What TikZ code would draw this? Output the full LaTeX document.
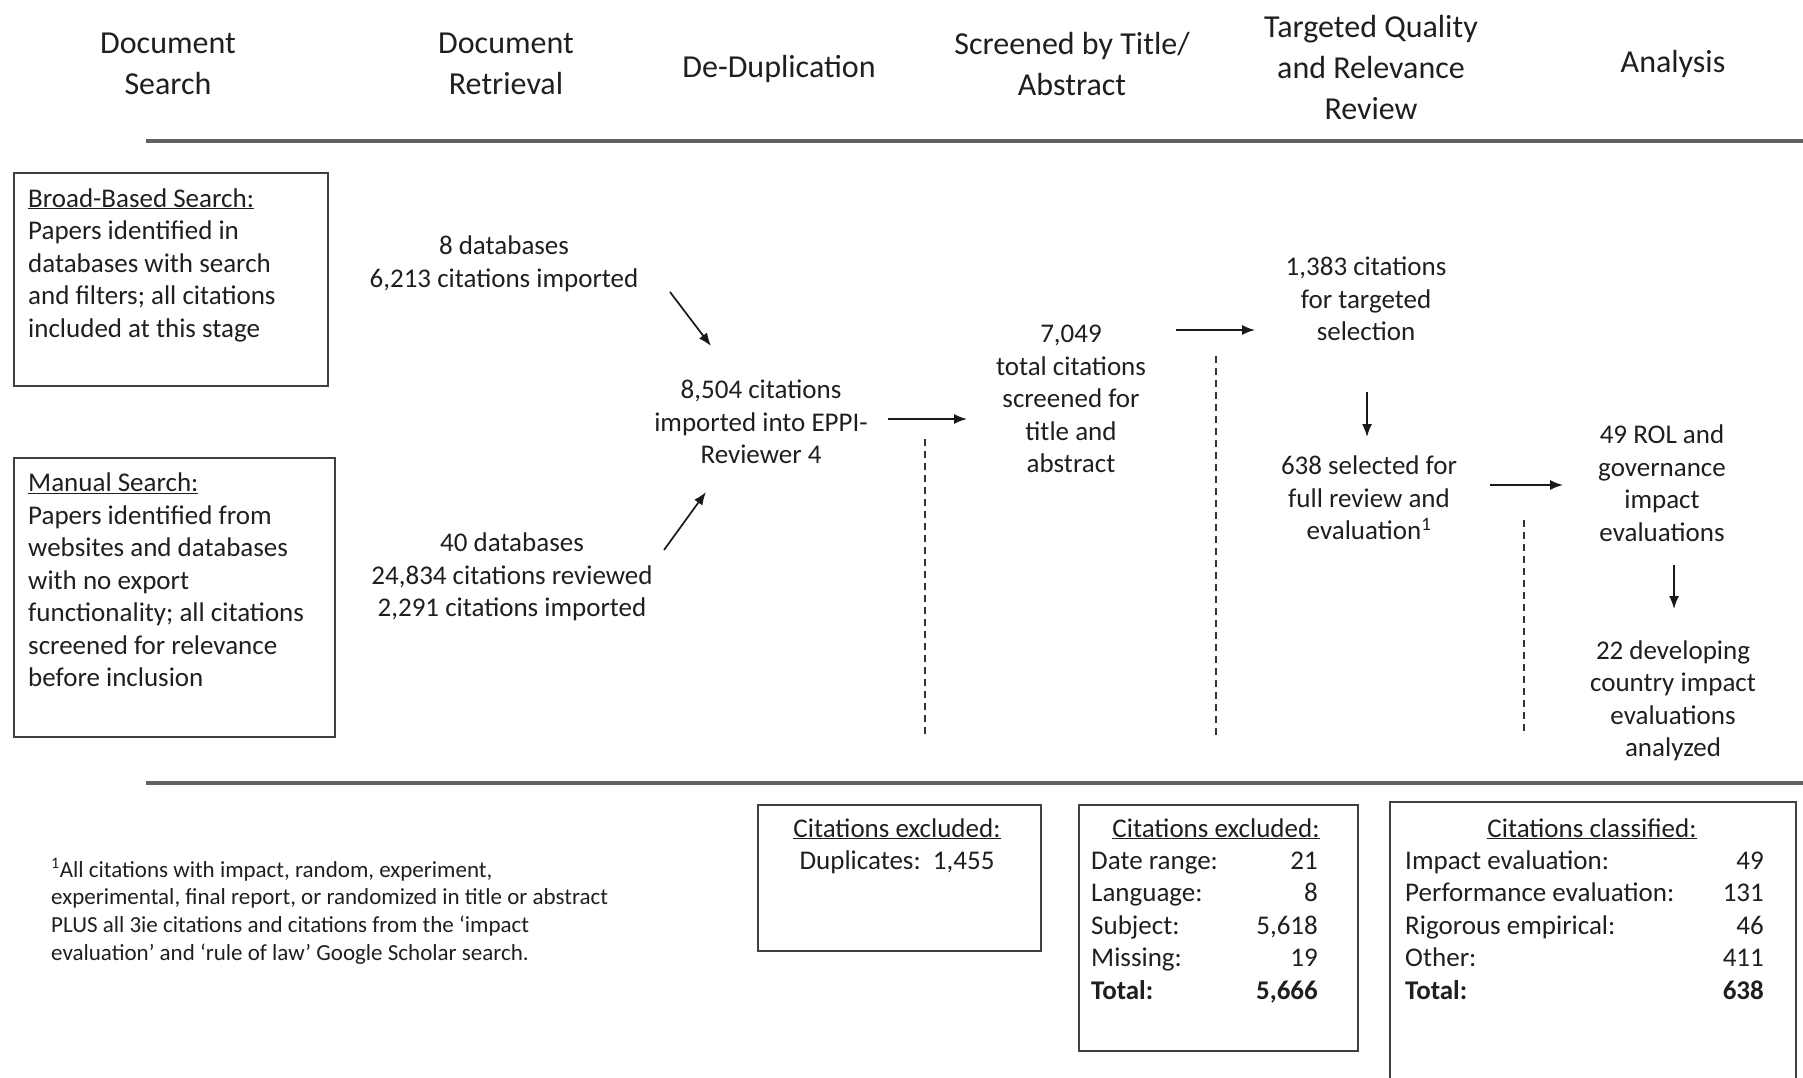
\documentclass[tikz,border=0pt]{standalone}
\usepackage{fontspec}
\setmainfont{Carlito}
\usetikzlibrary{arrows.meta}
\begin{document}
\begin{tikzpicture}[x=1pt,y=-1pt,
  hdr/.style={font=\fontsize{32}{41}\selectfont, align=center, inner sep=0pt, text=black!88},
  txt/.style={font=\fontsize{27}{32.5}\selectfont, align=center, inner sep=0pt, text=black!88},
  ltxt/.style={txt, align=left},
  fn/.style={font=\fontsize{23}{27.7}\selectfont, align=left, inner sep=0pt, text=black!88},
  frame/.style={draw=black!75, line width=1.8pt, inner sep=0pt},
  rule/.style={draw=black!62, line width=3.2pt},
  arr/.style={draw=black!90, line width=1.7pt, -{Latex[length=13pt,width=10pt]}},
  sepline/.style={draw=black!80, line width=1.6pt, dash pattern=on 7pt off 5pt},
]
\useasboundingbox (0,0) rectangle (1803,1078);

% headers
\node[hdr] (h1) at (168,64) {Document\\Search};
\node[hdr] (h2) at (506,64) {Document\\Retrieval};
\node[hdr] (h3) at (779,69) {De-Duplication};
\node[hdr] (h4) at (1072,64) {Screened by Title/\\Abstract};
\node[hdr] (h5) at (1371,68) {Targeted Quality\\and Relevance\\Review};
\node[hdr] (h6) at (1673,64) {Analysis};

% rules
\coordinate (r1a) at (146,141); \coordinate (r1b) at (1803,141);
\coordinate (r2a) at (146,783); \coordinate (r2b) at (1803,783);
\draw[rule] (r1a) -- (r1b);
\draw[rule] (r2a) -- (r2b);

% search boxes
\node[frame, anchor=north west, minimum width=314pt, minimum height=213pt] (broad) at (13,172) {};
\node[ltxt, anchor=west] (broadt) at (28,265) {\underline{Broad-Based Search:}\\Papers identified in\\databases with search\\and filters; all citations\\included at this stage};
\node[frame, anchor=north west, minimum width=321pt, minimum height=279pt] (manual) at (13,457) {};
\node[ltxt, anchor=west] (manualt) at (28,580) {\underline{Manual Search:}\\Papers identified from\\websites and databases\\with no export\\functionality; all citations\\screened for relevance\\before inclusion};

% flow texts
\node[txt] (t1) at (504,264) {8 databases\\6,213 citations imported};
\node[txt] (t2) at (512,577) {40 databases\\24,834 citations reviewed\\2,291 citations imported};
\node[txt] (t3) at (761,422) {8,504 citations\\imported into EPPI-\\Reviewer 4};
\node[txt] (t4) at (1071,399) {7,049\\total citations\\screened for\\title and\\abstract};
\node[txt] (t5) at (1366,299) {1,383 citations\\for targeted\\selection};
\node[txt] (t6) at (1369,498) {638 selected for\\full review and\\evaluation\textsuperscript{1}};
\node[txt] (t7) at (1662,483) {49 ROL and\\governance\\impact\\evaluations};
\node[txt] (t8) at (1673,701) {22 developing\\country impact\\evaluations\\analyzed};

% arrow ends
\coordinate (a1s) at (670,292); \coordinate (a1e) at (711,346);
\coordinate (a2s) at (664,550); \coordinate (a2e) at (706,492);
\coordinate (a3s) at (888,419); \coordinate (a3e) at (967,419);
\coordinate (a4s) at (1176,330); \coordinate (a4e) at (1255,330);
\coordinate (a5s) at (1367,392); \coordinate (a5e) at (1367,437);
\coordinate (a6s) at (1490,485); \coordinate (a6e) at (1563,485);
\coordinate (a7s) at (1674,565); \coordinate (a7e) at (1674,609);
\draw[arr] (a1s) -- (a1e);
\draw[arr] (a2s) -- (a2e);
\draw[arr] (a3s) -- (a3e);
\draw[arr] (a4s) -- (a4e);
\draw[arr] (a5s) -- (a5e);
\draw[arr] (a6s) -- (a6e);
\draw[arr] (a7s) -- (a7e);

% dashed separators
\coordinate (d1a) at (925,439); \coordinate (d1b) at (925,736);
\coordinate (d2a) at (1216,356); \coordinate (d2b) at (1216,736);
\coordinate (d3a) at (1524,520); \coordinate (d3b) at (1524,733);
\draw[sepline] (d1a) -- (d1b);
\draw[sepline] (d2a) -- (d2b);
\draw[sepline] (d3a) -- (d3b);

% footnote
\node[fn, anchor=west] (foot) at (51,911) {\textsuperscript{1}All citations with impact, random, experiment,\\experimental, final report, or randomized in title or abstract\\PLUS all 3ie citations and citations from the ‘impact\\evaluation’ and ‘rule of law’ Google Scholar search.};

% bottom box 1
\node[frame, anchor=north west, minimum width=283pt, minimum height=146pt] (b1) at (757,804) {};
\node[txt, anchor=base] (b1t) at (897,837) {\underline{Citations excluded:}};
\node[txt, anchor=base] (b1r) at (897,869) {Duplicates:\ \ 1,455};

% bottom box 2
\node[frame, anchor=north west, minimum width=279pt, minimum height=246pt] (b2) at (1078,804) {};
\node[txt, anchor=base] (b2t) at (1216,837) {\underline{Citations excluded:}};
\foreach \lab/\num [count=\i from 0] in {Date range:/21, Language:/8, Subject:/{5,618}, Missing:/19, \textbf{Total:}/\textbf{5,666}}{
  \node[txt, anchor=base west] (b2l\i) at (1091,869+32.5*\i) {\lab};
  \node[txt, anchor=base east] (b2n\i) at (1318,869+32.5*\i) {\num};
}

% bottom box 3 (runs off the bottom edge)
\coordinate (b3a) at (1390,1078); \coordinate (b3b) at (1390,802);
\coordinate (b3c) at (1796,802); \coordinate (b3d) at (1796,1078);
\draw[frame] (b3a) -- (b3b) -- (b3c) -- (b3d);
\node[txt, anchor=base] (b3t) at (1592,837) {\underline{Citations classified:}};
\foreach \lab/\num [count=\i from 0] in {Impact evaluation:/49, Performance evaluation:/131, Rigorous empirical:/46, Other:/411, \textbf{Total:}/\textbf{638}}{
  \node[txt, anchor=base west] (b3l\i) at (1405,869+32.5*\i) {\lab};
  \node[txt, anchor=base east] (b3n\i) at (1764,869+32.5*\i) {\num};
}
\end{tikzpicture}
\end{document}
